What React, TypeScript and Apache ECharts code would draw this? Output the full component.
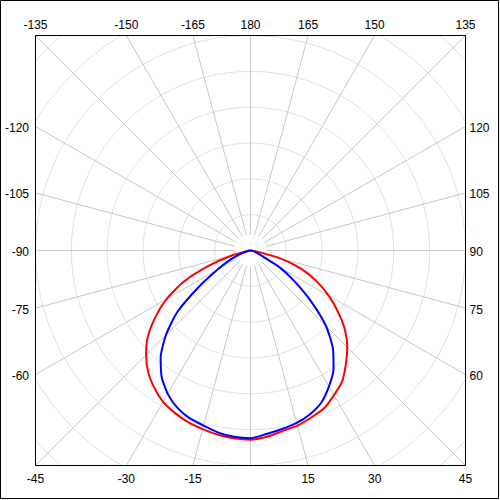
import React, { useEffect, useRef } from "react";
import * as echarts from "echarts";

// Gamma angles (degrees) of the measured curves
const GAMMA = [
  -90, -85, -80, -75, -70, -65, -60, -55, -50, -45, -40, -35, -30, -25, -20, -15, -10, -5,
  0, 5, 10, 15, 20, 25, 30, 35, 40, 45, 50, 55, 60, 65, 70, 75, 80, 85, 90,
];
// Red curve intensities
const RED = [
  0, 0, 4, 28, 61, 103, 135, 162, 187, 206, 222, 234, 244, 250, 255, 258, 261, 263,
  264, 261, 256, 253, 248, 243, 233, 223, 207, 191, 172, 149, 126, 102, 76, 44, 11, 0, 0,
];
// Blue curve intensities
const BLUE = [
  0, 1, 4, 8, 17, 32, 53, 87, 133, 167, 195, 216, 231, 242, 249, 253, 258, 261,
  262, 257, 253, 249, 243, 234, 219, 202, 179, 149, 110, 75, 47, 17, 8, 6, 3, 1, 0,
];
// Angle tick labels shown around the frame
const LABEL_ANGLES = [
  -135, -150, -165, 180, 165, 150, 135,
  -120, -105, -90, -75, -60,
  -45, -30, -15, 15, 30, 45,
  120, 105, 90, 75, 60,
];

const ANGLE_STEP = 15;
const RING_STEP = 50;
const BOX_HALF = 300; // radius value at the frame edge
const RADIUS_MAX = 425;

export default function App() {
  const ref = useRef<HTMLDivElement>(null);
  useEffect(() => {
    const chart = echarts.init(ref.current!, null, { renderer: "svg" });
    const c = 250.5;
    const pxPerUnit = 215 / BOX_HALF;
    chart.setOption({
      animation: false,
      polar: { center: [c, c], radius: RADIUS_MAX * pxPerUnit },
      angleAxis: {
        type: "value",
        min: -180,
        max: 180,
        interval: ANGLE_STEP,
        startAngle: 90,
        clockwise: false,
        z: 0,
        axisLine: { show: false },
        axisTick: { show: false },
        axisLabel: { show: false },
        splitLine: { show: true, lineStyle: { color: "#c8c8c8", width: 1 } },
      },
      radiusAxis: {
        type: "value",
        min: 0,
        max: RADIUS_MAX,
        interval: RING_STEP,
        z: 0,
        axisLine: { show: false },
        axisTick: { show: false },
        axisLabel: { show: false },
        splitLine: { show: true, lineStyle: { color: "#cfe8ee", width: 1 } },
      },
      series: [
        {
          type: "line",
          coordinateSystem: "polar",
          data: GAMMA.map((g, i) => [RED[i], g]),
          symbol: "none",
          smooth: 0.2,
          z: 3,
          lineStyle: { color: "#ff0000", width: 2 },
        },
        {
          type: "line",
          coordinateSystem: "polar",
          data: GAMMA.map((g, i) => [BLUE[i], g]),
          symbol: "none",
          smooth: 0.2,
          z: 4,
          lineStyle: { color: "#0000ff", width: 2 },
        },
      ],
    });

    const rad = (a: number) => (a * Math.PI) / 180;
    const edgeR = (a: number) =>
      BOX_HALF / Math.max(Math.abs(Math.sin(rad(a))), Math.abs(Math.cos(rad(a))));
    const toPx = (r: number, a: number) =>
      chart.convertToPixel({ seriesIndex: 0 }, [r, a]) as unknown as number[];
    const snap = (v: number) => Math.round(v - 0.5) + 0.5;

    const tl = toPx(edgeR(-135), -135);
    const br = toPx(edgeR(45), 45);
    const L = snap(tl[0]);
    const T = snap(tl[1]);
    const R = snap(br[0]);
    const B = snap(br[1]);
    const ctr = toPx(0, 0);

    const labels = LABEL_ANGLES.map((a) => {
      const p = toPx(edgeR(a), a);
      let x = p[0];
      let y = p[1];
      let align = "center";
      if (Math.abs(p[1] - T) < 1.5) {
        y = T - 10.5;
      } else if (Math.abs(p[1] - B) < 1.5) {
        y = B + 13;
      } else if (p[0] < ctr[0]) {
        x = L - 6.5;
        y = p[1] + 1.5;
        align = "right";
      } else {
        x = R + 4;
        y = p[1] + 1.5;
        align = "left";
      }
      return {
        type: "text",
        z: 60,
        x,
        y,
        style: {
          text: String(a),
          fill: "#000",
          font: '12px "Liberation Sans", Arial, sans-serif',
          align,
          verticalAlign: "middle",
        },
      };
    });

    const white = { fill: "#ffffff", stroke: "none" };
    chart.setOption({
      graphic: [
        { type: "circle", z: 1, shape: { cx: ctr[0], cy: ctr[1], r: 16 }, style: white },
        { type: "rect", z: 50, shape: { x: 0, y: 0, width: 500, height: T }, style: white },
        { type: "rect", z: 50, shape: { x: 0, y: B, width: 500, height: 500 - B }, style: white },
        { type: "rect", z: 50, shape: { x: 0, y: T, width: L, height: B - T }, style: white },
        { type: "rect", z: 50, shape: { x: R, y: T, width: 500 - R, height: B - T }, style: white },
        {
          type: "rect",
          z: 55,
          shape: { x: L, y: T, width: R - L, height: B - T },
          style: { fill: "none", stroke: "#000", lineWidth: 1 },
        },
        {
          type: "rect",
          z: 55,
          shape: { x: 0.5, y: 0.5, width: 498, height: 498 },
          style: { fill: "none", stroke: "#000", lineWidth: 1 },
        },
        ...labels,
      ],
    });
    return () => chart.dispose();
  }, []);
  return (
    <div
      ref={ref}
      style={{ position: "fixed", left: 0, top: 0, width: 500, height: 500, background: "#fff" }}
    />
  );
}
